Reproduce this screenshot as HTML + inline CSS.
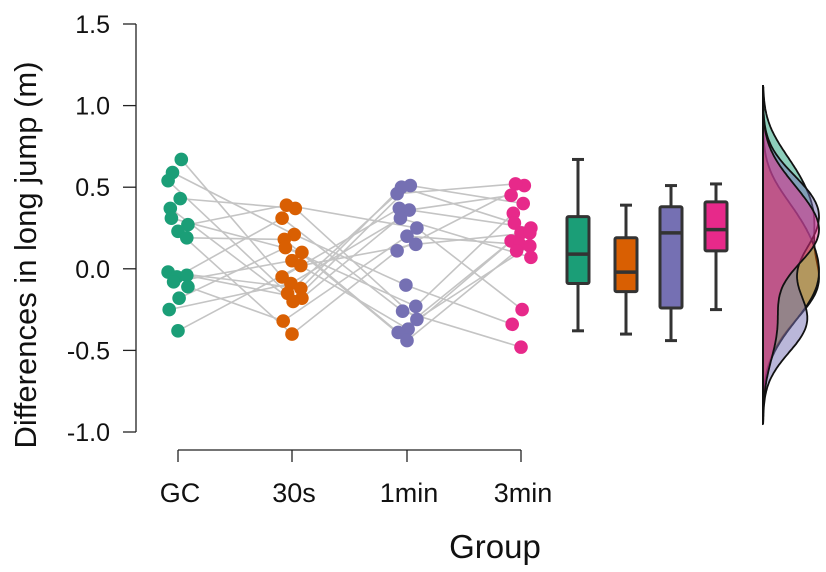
<!DOCTYPE html>
<html><head><meta charset="utf-8">
<style>
body{margin:0;background:#fff;}
svg{display:block;font-family:"Liberation Sans",Arial,sans-serif;}
</style></head>
<body>
<svg id="chart" width="826" height="572"></svg>
<script>
const categories = ["GC","30s","1min","3min"];
const colors = ["#1b9e77","#d95f02","#7570b3","#e7298a"];
const gcValues = [0.67,0.59,0.54,0.43,0.37,0.31,0.27,0.23,0.19,-0.02,-0.05,-0.04,-0.08,-0.11,-0.18,-0.25,-0.38];
const s30Values = [0.37,0.39,0.31,0.21,0.18,0.13,0.10,0.05,0.02,-0.05,-0.09,-0.12,-0.15,-0.18,-0.20,-0.32,-0.40];
const min1Values = [0.51,0.50,0.46,0.36,0.37,0.31,0.25,0.20,0.15,0.11,-0.10,-0.23,-0.26,-0.31,-0.37,-0.39,-0.44];
const min3Values = [0.51,0.52,0.45,0.40,0.34,0.28,0.25,0.22,0.22,0.17,0.15,0.14,0.11,0.07,-0.25,-0.34,-0.48];
const boxMin = [-0.38,-0.40,-0.44,-0.25];
const boxQ1 = [-0.09,-0.14,-0.24,0.11];
const boxMedian = [0.09,-0.02,0.22,0.24];
const boxQ3 = [0.32,0.19,0.38,0.41];
const boxMax = [0.67,0.39,0.51,0.52];
const pairOrder1 = [9,3,12,0,14,6,1,16,4,11,2,13,7,15,5,10,8];
const pairOrder2 = [4,10,2,13,0,15,6,9,16,1,12,3,14,7,11,5,8];
const pairOrder3 = [6,15,1,11,3,9,14,0,12,5,16,2,7,10,4,13,8];
const jitter = [0.3,-0.5,-0.9,0.2,-0.7,-0.6,0.9,0.0,0.8,-0.9,-0.1,0.8,-0.4,0.9,0.1,-0.8,0.0];
const yTicks = [1.5,1.0,0.5,0.0,-0.5,-1.0];
const yTickLabels = ["1.5","1.0","0.5","0.0","-0.5","-1.0"];

const NS="http://www.w3.org/2000/svg";
const svg=document.getElementById('chart');
function mk(tag,attrs,parent){const e=document.createElementNS(NS,tag);for(const k in attrs)e.setAttribute(k,attrs[k]);(parent||svg).appendChild(e);return e;}
const Y0=24,Y1=432,VMAX=1.5,VMIN=-1.0;
function yScale(v){return Y0+(VMAX-v)/(VMAX-VMIN)*(Y1-Y0);}
const xCat=[178,292,407,521];
function xScale(i){return xCat[i];}
const series=[gcValues,s30Values,min1Values,min3Values];

let ax=mk('line',{x1:136,x2:136,y1:yScale(VMAX),y2:yScale(VMIN),stroke:'#222','stroke-width':1.3});

yTicks.forEach((t,i)=>{
 const tk=mk('line',{x1:123,x2:136,y1:yScale(t),y2:yScale(t),stroke:'#222','stroke-width':1.3});
 
 const tx=mk('text',{x:110,y:yScale(t)+9,'text-anchor':'end','font-size':25,fill:'#111'});
 tx.textContent=yTickLabels[i];
 
});
const yt=mk('text',{x:0,y:0,transform:'translate(36,255) rotate(-90)','text-anchor':'middle','font-size':31,fill:'#111'});
yt.textContent='Differences in long jump (m)';


const xa=mk('line',{x1:xScale(0),x2:xScale(3),y1:450,y2:450,stroke:'#222','stroke-width':1.3});

categories.forEach((c,i)=>{
 const tk=mk('line',{x1:xScale(i),x2:xScale(i),y1:450,y2:462,stroke:'#222','stroke-width':1.3});
 
 const tx=mk('text',{x:xScale(i)+2,y:502,'text-anchor':'middle','font-size':27,fill:'#111'});
 tx.textContent=c;
 
});
const xt=mk('text',{x:495,y:558,'text-anchor':'middle','font-size':33,fill:'#111'});
xt.textContent='Group';


const orders=[null,pairOrder1,pairOrder2,pairOrder3];
function idx(g,k){return g===0?k:orders[g][k];}
for(let k=0;k<gcValues.length;k++){
 let pts=[];
 for(let g=0;g<4;g++){const j=idx(g,k);pts.push((xScale(g)+jitter[j]*11)+','+yScale(series[g][j]));}
 const pl=mk('polyline',{points:pts.join(' '),fill:'none',stroke:'#c4c4c4','stroke-width':1.6});
 
}
series.forEach((arr,g)=>arr.forEach((v,j)=>{
 const c=mk('circle',{cx:xScale(g)+jitter[j]*11,cy:yScale(v),r:6.8,fill:colors[g]});
 
}));

const boxX=[578,626,671,716];
categories.forEach((c,g)=>{
 const x=boxX[g],w=22;
 const grp=mk('g',{});
 
 mk('line',{x1:x,x2:x,y1:yScale(boxMax[g]),y2:yScale(boxMin[g]),stroke:'#333','stroke-width':3},grp);
 mk('line',{x1:x-6,x2:x+6,y1:yScale(boxMax[g]),y2:yScale(boxMax[g]),stroke:'#333','stroke-width':3},grp);
 mk('line',{x1:x-6,x2:x+6,y1:yScale(boxMin[g]),y2:yScale(boxMin[g]),stroke:'#333','stroke-width':3},grp);
 mk('rect',{x:x-w/2,y:yScale(boxQ3[g]),width:w,height:yScale(boxQ1[g])-yScale(boxQ3[g]),fill:colors[g],stroke:'#333','stroke-width':3,rx:1.5},grp);
 mk('line',{x1:x-w/2,x2:x+w/2,y1:yScale(boxMedian[g]),y2:yScale(boxMedian[g]),stroke:'#333','stroke-width':3.5},grp);
});

const base=763,maxW=56,bw=0.17;
function kde(arr,v){let s=0;arr.forEach(a=>{const z=(v-a)/bw;s+=Math.exp(-0.5*z*z);});return s;}
const gridV=[];for(let v=-0.95;v<=1.12;v+=0.01)gridV.push(v);
series.forEach((arr,g)=>{
 const d=gridV.map(v=>kde(arr,v));const m=Math.max(...d);
 let p='M'+base+','+yScale(gridV[0]);
 gridV.forEach((v,i)=>{p+=' L'+(base+d[i]/m*maxW).toFixed(1)+','+yScale(v).toFixed(1);});
 p+=' L'+base+','+yScale(gridV[gridV.length-1])+' Z';
 const pa=mk('path',{d:p,fill:colors[g],'fill-opacity':0.5,stroke:'#111','stroke-width':1.8});
 
});
const bl=mk('line',{x1:base,x2:base,y1:85,y2:422,stroke:'#111','stroke-width':2});

</script>
</body></html>
